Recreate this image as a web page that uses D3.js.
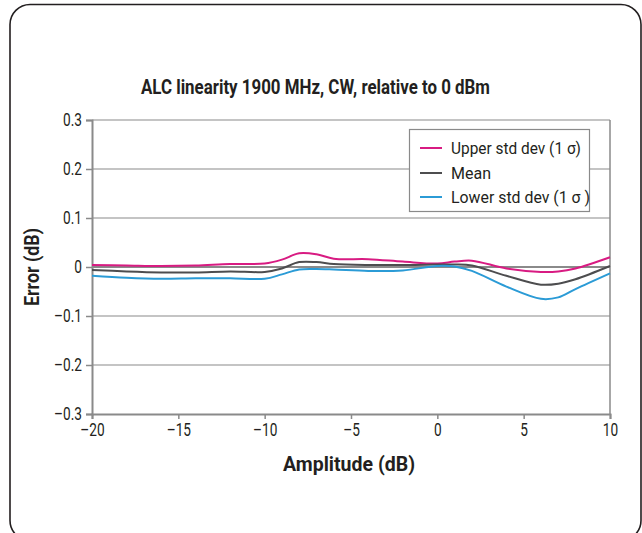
<!DOCTYPE html>
<html><head><meta charset="utf-8">
<script src="https://cdn.jsdelivr.net/npm/d3@7"></script>
<style>
html,body{margin:0;padding:0;background:#fff;}
text{font-family:Roboto,"DejaVu Sans Condensed",sans-serif;fill:#231f20;}
</style></head><body>
<svg id="chart" width="642" height="533"></svg>
<script>
const amplitude = [-20,-18,-16,-14,-12,-10,-9,-8,-7,-6,-4,-2,0,1,2,4,6,7,8,10];
const upperStd = [0.004,0.003,0.002,0.003,0.006,0.007,0.015,0.028,0.026,0.017,0.016,0.011,0.007,0.011,0.013,-0.003,-0.010,-0.009,-0.003,0.020];
const meanVals = [-0.006,-0.009,-0.011,-0.011,-0.009,-0.010,-0.003,0.010,0.010,0.006,0.004,0.004,0.005,0.005,0.003,-0.018,-0.036,-0.034,-0.025,0.002];
const lowerStd = [-0.018,-0.022,-0.024,-0.023,-0.023,-0.024,-0.015,-0.005,-0.004,-0.005,-0.008,-0.007,0.002,0.001,-0.008,-0.040,-0.065,-0.062,-0.045,-0.013];
const xTicks = [-20,-15,-10,-5,0,5,10];
const yTicks = [-0.3,-0.2,-0.1,0,0.1,0.2,0.3];
const seriesNames = ["Upper std dev (1 \u03c3)","Mean","Lower std dev (1 \u03c3 )"];
const seriesColors = ["#d81b82","#4d4d4f","#2b9bd6"];

const svg = d3.select("#chart");
svg.append("rect").attr("x",10).attr("y",4.5).attr("width",631).attr("height",536)
  .attr("rx",20).attr("fill","none").attr("stroke","#231f20").attr("stroke-width",1.6);

const x = d3.scaleLinear().domain([-20,10]).range([92,610]);
const y = d3.scaleLinear().domain([-0.3,0.3]).range([414,120]);
const fmt = v => v===0 ? "0" : (v<0 ? "\u2013"+d3.format(".1f")(-v) : d3.format(".1f")(v));
const fmtX = v => v<0 ? "\u2013"+(-v) : String(v);

function condense(sel, factor){
  sel.each(function(){
    const len = this.getComputedTextLength();
    d3.select(this).attr("textLength", len*factor).attr("lengthAdjust","spacingAndGlyphs");
  });
}

// grid
svg.append("g").selectAll("line").data(yTicks.filter(v=>v>-0.3)).join("line")
  .attr("x1",92).attr("x2",610).attr("y1",d=>y(d)).attr("y2",d=>y(d))
  .attr("stroke","#8a8a8a").attr("stroke-width",d=>d===0?2:1.2);
svg.append("line").attr("x1",610).attr("x2",610).attr("y1",120).attr("y2",414)
  .attr("stroke","#8a8a8a").attr("stroke-width",1.5);

// axes
const yAxis = d3.axisLeft(y).tickValues(yTicks).tickFormat(fmt).tickSize(6).tickPadding(4);
const gy = svg.append("g").attr("transform","translate(92,0)").call(yAxis);
const xAxis = d3.axisBottom(x).tickValues(xTicks).tickFormat(fmtX).tickSize(5).tickPadding(5);
const gx = svg.append("g").attr("transform","translate(0,414)").call(xAxis);
[gy,gx].forEach(g=>{
  g.select(".domain").attr("stroke","#8a8a8a").attr("stroke-width",2);
  g.selectAll(".tick line").attr("stroke","#8a8a8a").attr("stroke-width",1.5);
  g.selectAll(".tick text").attr("font-size",17.5).attr("fill","#231f20")
   .attr("font-family","Roboto,sans-serif");
  condense(g.selectAll(".tick text"), 0.78);
});

// lines
const line = d3.line().x((d,i)=>x(amplitude[i])).y(d=>y(d)).curve(d3.curveCatmullRom.alpha(0.5));
[upperStd,meanVals,lowerStd].forEach((s,k)=>{
  svg.append("path").datum(s).attr("d",line).attr("fill","none")
    .attr("stroke",seriesColors[k]).attr("stroke-width",2);
});

// titles
svg.append("text").attr("x",141).attr("y",94)
  .attr("font-size",20).attr("font-weight","bold")
  .attr("textLength",349).attr("lengthAdjust","spacingAndGlyphs")
  .text("ALC linearity 1900 MHz, CW, relative to 0 dBm");
svg.append("text").attr("x",283).attr("y",471)
  .attr("font-size",21).attr("font-weight","bold")
  .attr("textLength",132).attr("lengthAdjust","spacingAndGlyphs")
  .text("Amplitude (dB)");
svg.append("text").attr("transform","translate(39,306) rotate(-90)")
  .attr("font-size",21).attr("font-weight","bold")
  .attr("textLength",78).attr("lengthAdjust","spacingAndGlyphs")
  .text("Error (dB)");

// legend
const lg = svg.append("g");
lg.append("rect").attr("x",409.5).attr("y",129.5).attr("width",180).attr("height",82)
  .attr("fill","#fff").attr("stroke","#8a8a8a").attr("stroke-width",1.2);
const ly = [148,173,197];
const lw = [130,40,139];
seriesNames.forEach((n,k)=>{
  lg.append("line").attr("x1",420).attr("x2",442).attr("y1",ly[k]).attr("y2",ly[k])
    .attr("stroke",seriesColors[k]).attr("stroke-width",2);
  lg.append("text").attr("x",451).attr("y",ly[k]+6).attr("font-size",17)
    .attr("textLength",lw[k]).attr("lengthAdjust","spacingAndGlyphs").text(n);
});
</script></body></html>
